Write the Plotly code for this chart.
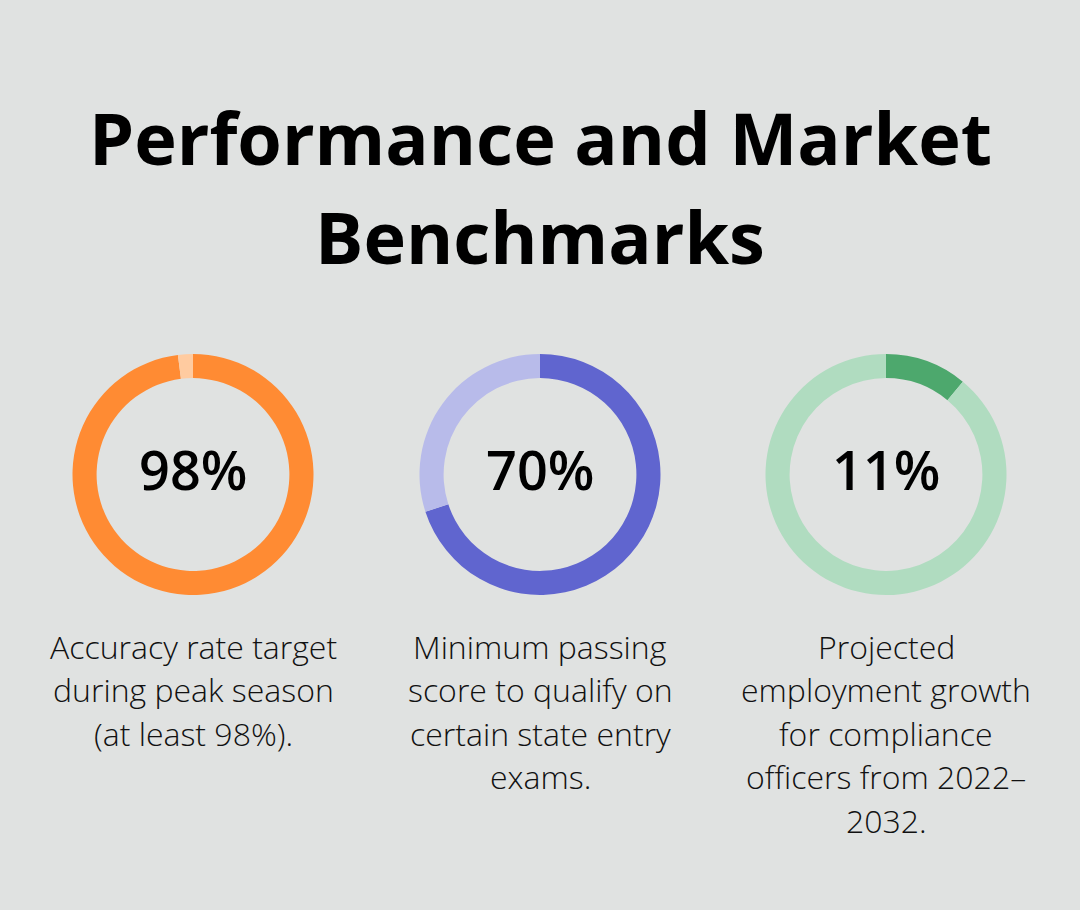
import plotly.graph_objects as go

W, H = 1080, 910
BG = "#E0E2E1"

title_lines = ["Performance and Market", "Benchmarks"]
values = [98, 70, 11]
labels = ["98%", "70%", "11%"]
dark_colors = ["#FF8B33", "#6065CF", "#4DA86D"]
light_colors = ["#FFCBA0", "#B8BBEA", "#B0DCC0"]
descriptions = [
    ["Accuracy rate target", "during peak season", "(at least 98%)."],
    ["Minimum passing", "score to qualify on", "certain state entry", "exams."],
    ["Projected", "employment growth", "for compliance", "officers from 2022\u2013", "2032."],
]

centers_x = [193, 540, 886]
center_y = 474.5
R = 120.5

fig = go.Figure()
for i, v in enumerate(values):
    cx = centers_x[i]
    fig.add_trace(go.Pie(
        values=[v, 100 - v],
        marker=dict(colors=[dark_colors[i], light_colors[i]], line=dict(width=0)),
        hole=0.80,
        sort=False,
        direction="clockwise",
        rotation=0,
        textinfo="none",
        hoverinfo="skip",
        showlegend=False,
        domain=dict(x=[(cx - R) / W, (cx + R) / W],
                    y=[1 - (center_y + R) / H, 1 - (center_y - R) / H]),
    ))

ann = []
title_y = [137, 236]
for t, y in zip(title_lines, title_y):
    ann.append(dict(text=t, x=0.5, y=1 - y / H, xref="paper", yref="paper",
                    xanchor="center", yanchor="middle", showarrow=False,
                    font=dict(family="Open Sans", size=72, color="#000000", weight="bold")))

for i, lab in enumerate(labels):
    ann.append(dict(text=lab, x=centers_x[i] / W, y=1 - 469 / H, xref="paper", yref="paper",
                    xanchor="center", yanchor="middle", showarrow=False,
                    font=dict(family="Open Sans", size=54, color="#000000", weight=600)))

line_y0, line_dy = 646, 43.5
for i, lines in enumerate(descriptions):
    for j, t in enumerate(lines):
        ann.append(dict(text=t, x=centers_x[i] / W, y=1 - (line_y0 + j * line_dy) / H,
                        xref="paper", yref="paper", xanchor="center", yanchor="middle",
                        showarrow=False,
                        font=dict(family="Open Sans", size=32, color="#111111", weight=300)))

fig.update_layout(
    width=W, height=H,
    margin=dict(l=0, r=0, t=0, b=0),
    paper_bgcolor=BG, plot_bgcolor=BG,
    annotations=ann,
)
fig.write_html("out.html")
